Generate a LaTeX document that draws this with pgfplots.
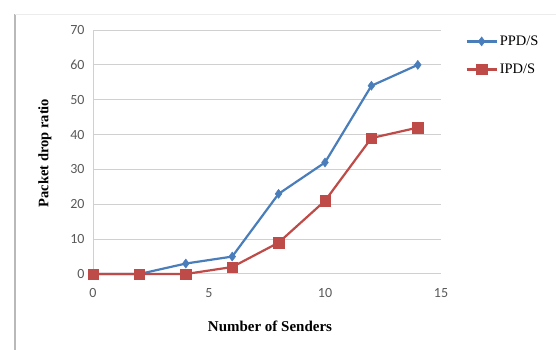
\documentclass[border=0pt]{standalone}
\usepackage{pgfplots}
\pgfplotsset{compat=1.18}
\usepackage{fontspec}
\setmainfont{Liberation Serif}
\newfontfamily\tickfont{Carlito}
\definecolor{ppdblue}{HTML}{4A7EBB}
\definecolor{ipdred}{HTML}{BE4B48}
\definecolor{gridgray}{HTML}{D0D0D0}
\definecolor{ticktext}{HTML}{595959}
\begin{document}
\begin{tikzpicture}
\useasboundingbox (0pt,0pt) rectangle (556pt,350pt);
% outer frame of the chart area
\draw[gray!55, line width=1.6pt] (15pt,0pt) -- (15pt,336pt);
\draw[gray!15, line width=0.8pt] (15pt,336pt) -- (556pt,336pt);
\begin{axis}[
  at={(93pt,76pt)}, anchor=south west,
  scale only axis, width=348pt, height=244pt,
  xmin=0, xmax=15, ymin=0, ymax=70,
  xtick={0,5,10,15}, ytick={0,10,...,70},
  axis x line*=bottom, axis y line*=left,
  x axis line style={draw=none},
  y axis line style={gridgray, line width=1pt, -},
  ymajorgrids, grid style={gridgray, line width=1pt},
  major tick length=0pt,
  tick label style={font=\tickfont\fontsize{14}{16}\selectfont, text=ticktext},
  /pgf/number format/assume math mode=true,
  yticklabel style={xshift=-5pt},
  xticklabel style={yshift=-11pt},
  legend style={at={(1.07,0.985)}, anchor=north west, draw=none, fill=none,
    font=\fontsize{14.5}{16}\selectfont, row sep=13pt, inner sep=0pt},
  legend image code/.code={
    \draw[mark repeat=2, mark phase=2] plot coordinates {(0pt,0pt) (15pt,0pt) (30pt,0pt)};},
  legend cell align=left,
  clip=false,
]
\addplot[ppdblue, line width=2.2pt, mark=diamond*, mark size=4.5pt,
  mark options={fill=ppdblue, draw=ppdblue, line width=0.5pt}]
  coordinates {(0,0) (2,0) (4,3) (6,5) (8,23) (10,32) (12,54) (14,60)};
\addlegendentry{PPD/S}
\addplot[ipdred, line width=2.2pt, mark=square*, mark size=5.2pt,
  mark options={fill=ipdred, draw=ipdred, line width=0.5pt}]
  coordinates {(0,0) (2,0) (4,0) (6,2) (8,9) (10,21) (12,39) (14,42)};
\addlegendentry{IPD/S}
\end{axis}
\node[font=\bfseries\fontsize{15}{17}\selectfont] at (270pt,24pt) {Number of Senders};
\node[font=\bfseries\fontsize{14.5}{17}\selectfont, rotate=90] at (45pt,197pt) {Packet drop ratio};
\end{tikzpicture}
\end{document}
